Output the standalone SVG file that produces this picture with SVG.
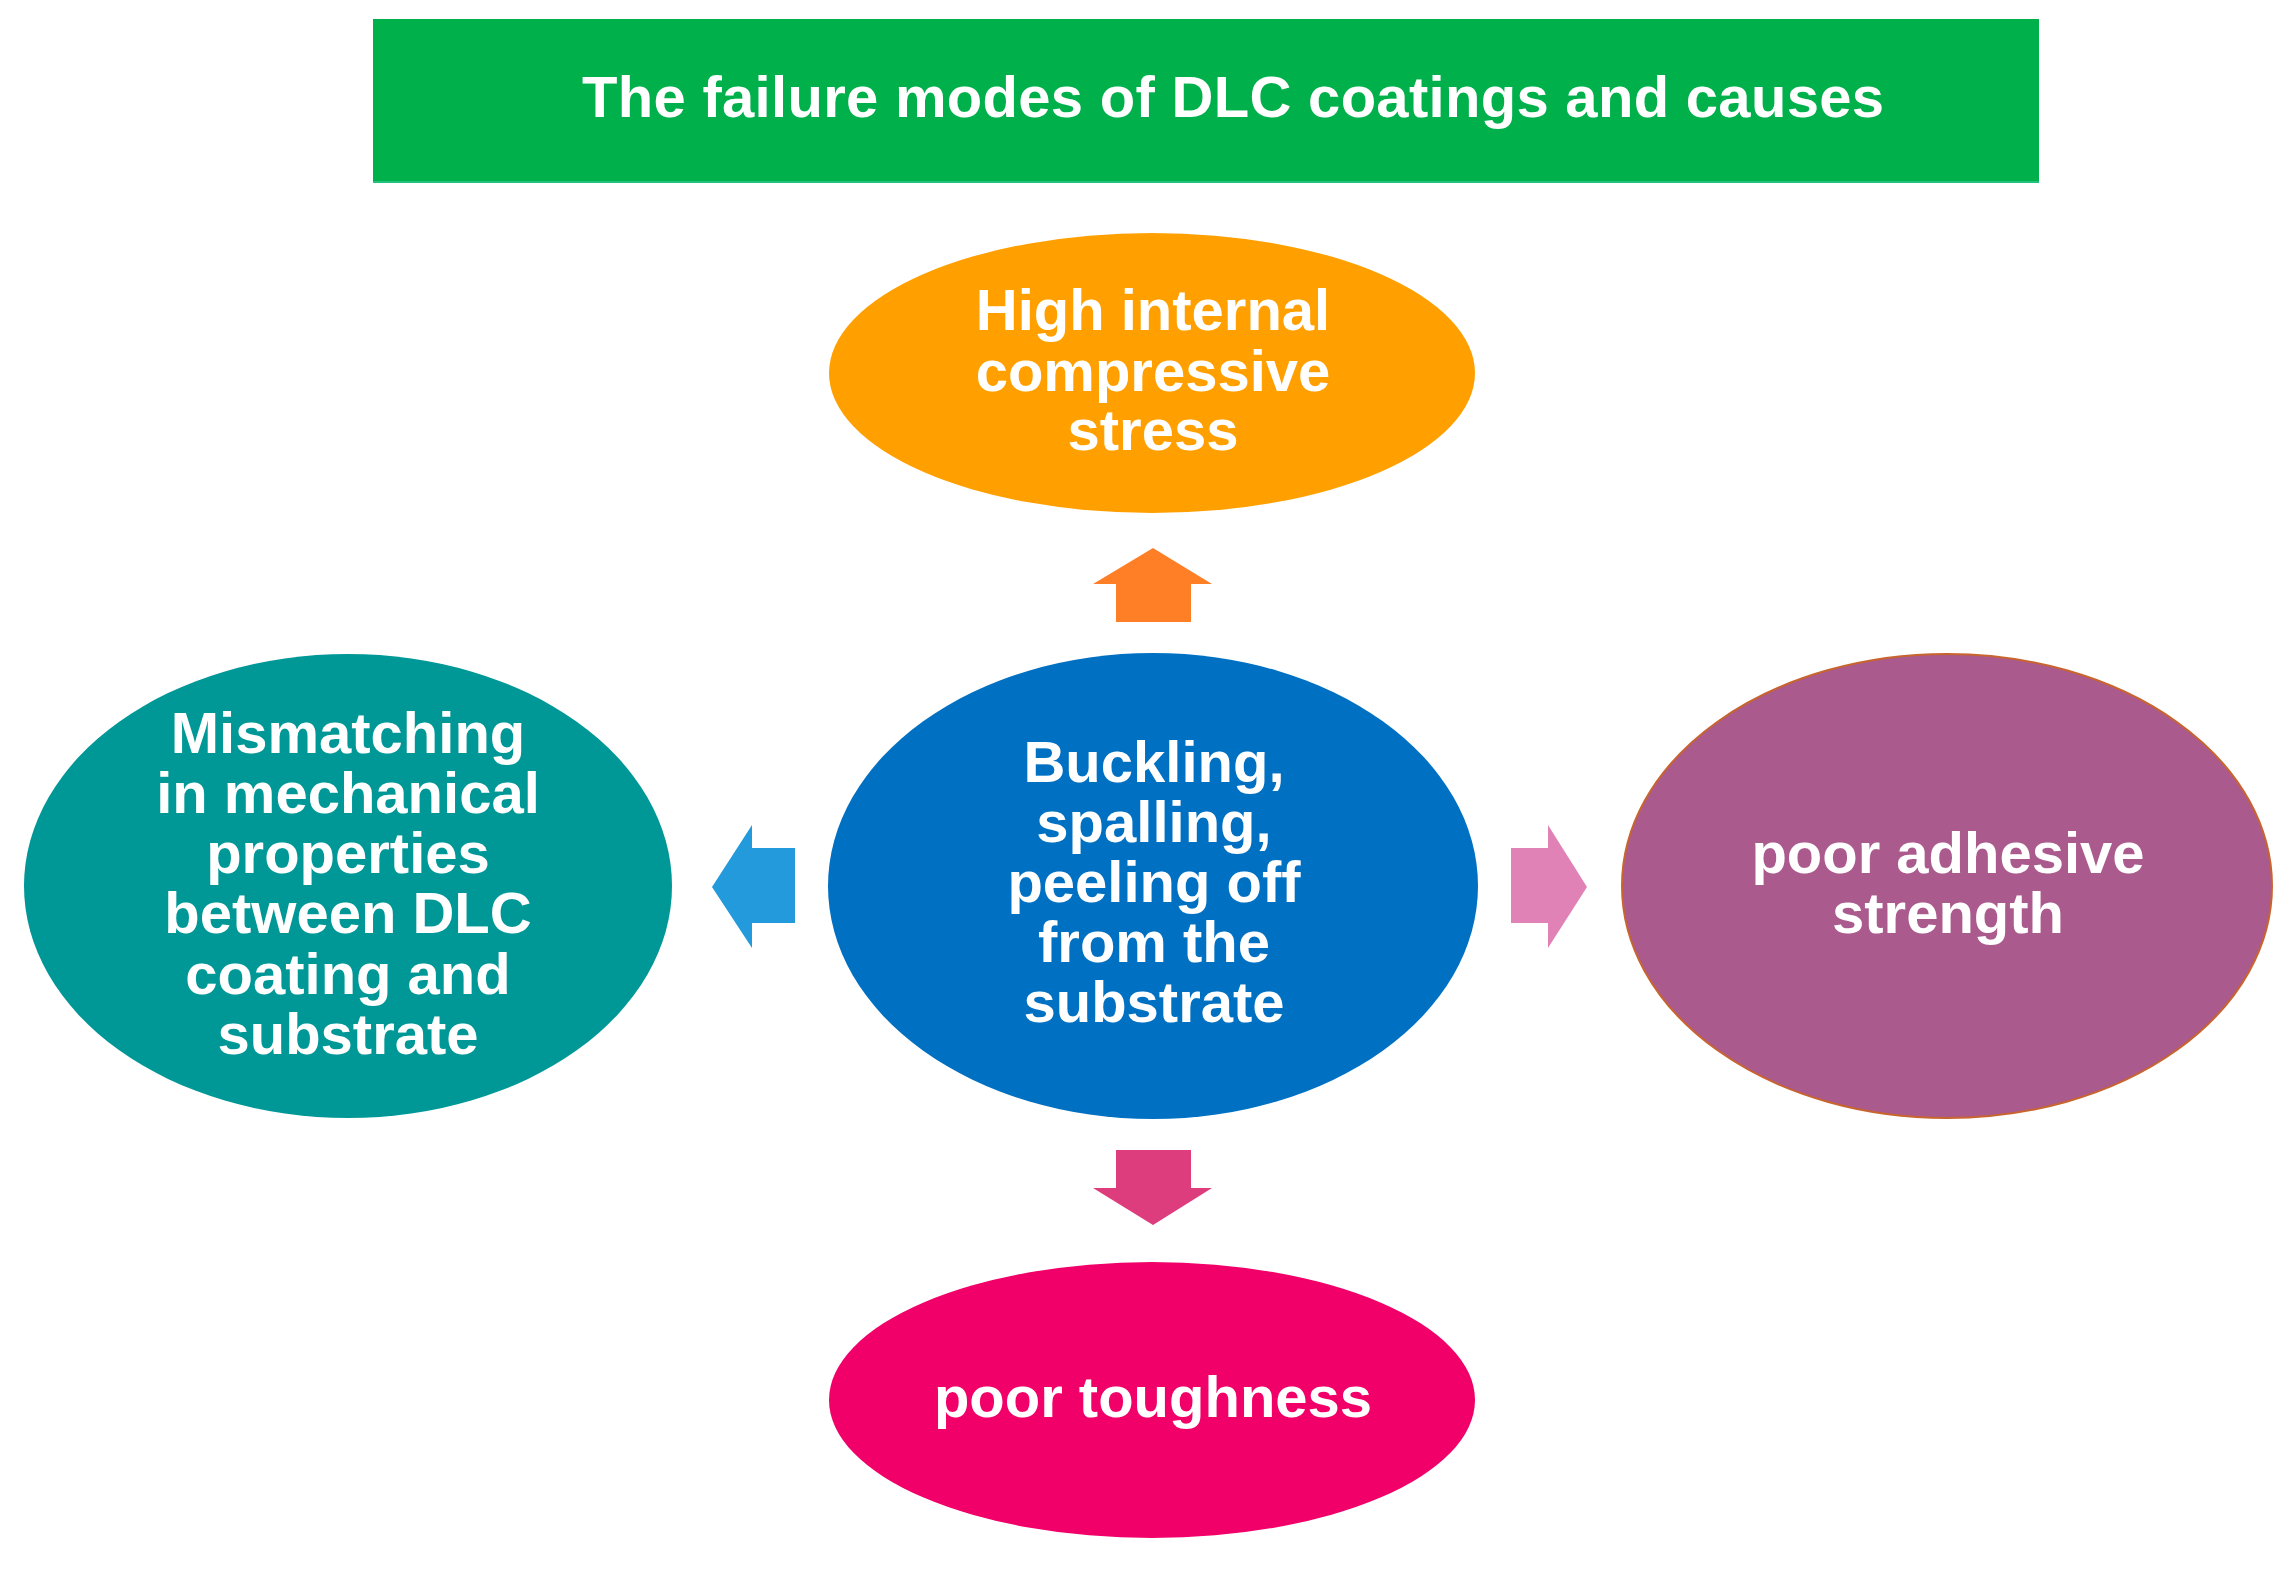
<svg xmlns="http://www.w3.org/2000/svg" width="2294" height="1569" viewBox="0 0 2294 1569">
<style>
.t{font-family:"Liberation Sans",Arial,sans-serif;font-weight:bold;fill:#ffffff;text-anchor:middle;font-size:58px}
</style>
<rect x="0" y="0" width="2294" height="1569" fill="#ffffff"/>
<g id="title">
<rect x="373" y="19" width="1666" height="164" fill="#00B04A"/>
<rect x="373" y="181" width="1666" height="2" fill="#22C27E"/>
<text class="t" x="1233" y="117" textLength="1302" lengthAdjust="spacing">The failure modes of DLC coatings and causes</text>
</g>
<g id="node-stress">
<ellipse cx="1152" cy="373" rx="323" ry="140" fill="#FFA000"/>
<text class="t" x="1153" y="330">High internal</text>
<text class="t" x="1153" y="391">compressive</text>
<text class="t" x="1153" y="450">stress</text>
</g>
<g id="node-mismatch">
<ellipse cx="348" cy="886" rx="324" ry="232" fill="#009797"/>
<text class="t" x="348" y="753">Mismatching</text>
<text class="t" x="348" y="813">in mechanical</text>
<text class="t" x="348" y="873">properties</text>
<text class="t" x="348" y="933">between DLC</text>
<text class="t" x="348" y="994">coating and</text>
<text class="t" x="348" y="1054">substrate</text>
</g>
<g id="node-center">
<ellipse cx="1153" cy="886" rx="325" ry="233" fill="#0070C2"/>
<text class="t" x="1154" y="782">Buckling,</text>
<text class="t" x="1154" y="842">spalling,</text>
<text class="t" x="1154" y="902">peeling off</text>
<text class="t" x="1154" y="962">from the</text>
<text class="t" x="1154" y="1022">substrate</text>
</g>
<g id="node-adhesive">
<ellipse cx="1947" cy="886" rx="325" ry="232" fill="#AA5A8C" stroke="#C8642E" stroke-width="2"/>
<text class="t" x="1948" y="873">poor adhesive</text>
<text class="t" x="1948" y="933">strength</text>
</g>
<g id="node-toughness">
<ellipse cx="1152" cy="1400" rx="323" ry="138" fill="#F00068"/>
<text class="t" x="1153" y="1417">poor toughness</text>
</g>
<g id="connectors">
<polygon points="1153,548 1212,584 1191,584 1191,622 1116,622 1116,584 1093,584" fill="#FF7F27"/>
<polygon points="712,887 752,825 752,848 795,848 795,923 752,923 752,948" fill="#229ADB"/>
<polygon points="1587,887 1548,825 1548,848 1511,848 1511,923 1548,923 1548,948" fill="#E082B6"/>
<polygon points="1153,1225 1212,1188 1191,1188 1191,1150 1116,1150 1116,1188 1093,1188" fill="#DE3D7D"/>
</g>
</svg>
